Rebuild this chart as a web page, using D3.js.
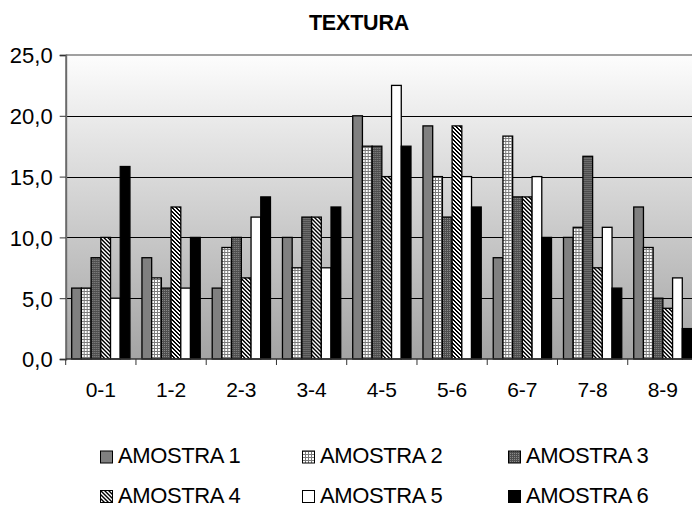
<!DOCTYPE html>
<html>
<head>
<meta charset="utf-8">
<script src="https://cdn.jsdelivr.net/npm/d3@7"></script>
<style>
  body { margin: 0; background: #fff; }
  svg { display: block; font-family: "Liberation Sans", Arial, sans-serif; }
</style>
</head>
<body>
<svg id="chart" width="692" height="508"></svg>
<script>
const title = "TEXTURA";
const categories = ["0-1", "1-2", "2-3", "3-4", "4-5", "5-6", "6-7", "7-8", "8-9"];
const seriesNames = ["AMOSTRA 1", "AMOSTRA 2", "AMOSTRA 3", "AMOSTRA 4", "AMOSTRA 5", "AMOSTRA 6"];
const amostra1 = [5.83, 8.33, 5.83, 10.0, 20.0, 19.17, 8.33, 10.0, 12.5];
const amostra2 = [5.83, 6.67, 9.17, 7.5, 17.5, 15.0, 18.33, 10.83, 9.17];
const amostra3 = [8.33, 5.83, 10.0, 11.67, 17.5, 11.67, 13.33, 16.67, 5.0];
const amostra4 = [10.0, 12.5, 6.67, 11.67, 15.0, 19.17, 13.33, 7.5, 4.17];
const amostra5 = [5.0, 5.83, 11.67, 7.5, 22.5, 15.0, 15.0, 10.83, 6.67];
const amostra6 = [15.83, 10.0, 13.33, 12.5, 17.5, 12.5, 10.0, 5.83, 2.5];
const yTicks = [0, 5, 10, 15, 20, 25];

const seriesValues = [amostra1, amostra2, amostra3, amostra4, amostra5, amostra6];
const fills = ["#808080", "url(#pGrid)", "url(#pDots)", "url(#pDiag)", "#ffffff", "#000000"];

const svg = d3.select("#chart");
const plot = { left: 65.7, right: 698, top: 55, bottom: 359 };

// defs: background gradient and patterns
const defs = svg.append("defs");
const grad = defs.append("linearGradient").attr("id", "bg")
  .attr("x1", 0).attr("y1", 0).attr("x2", 0).attr("y2", 1);
grad.append("stop").attr("offset", "0%").attr("stop-color", "#fdfdfd");
grad.append("stop").attr("offset", "100%").attr("stop-color", "#a4a4a4");

const pGrid = defs.append("pattern").attr("id", "pGrid").attr("patternUnits", "userSpaceOnUse")
  .attr("width", 3).attr("height", 3);
pGrid.append("rect").attr("width", 3).attr("height", 3).attr("fill", "#ffffff");
pGrid.append("rect").attr("width", 3).attr("height", 1).attr("fill", "#7a7a7a");
pGrid.append("rect").attr("width", 1).attr("height", 3).attr("fill", "#7a7a7a");

const pDots = defs.append("pattern").attr("id", "pDots").attr("patternUnits", "userSpaceOnUse")
  .attr("width", 2).attr("height", 2);
pDots.append("rect").attr("width", 2).attr("height", 2).attr("fill", "#4e4e4e");
pDots.append("rect").attr("width", 1).attr("height", 1).attr("fill", "#8a8a8a");

const pDiag = defs.append("pattern").attr("id", "pDiag").attr("patternUnits", "userSpaceOnUse")
  .attr("width", 4).attr("height", 4);
pDiag.append("rect").attr("width", 4).attr("height", 4).attr("fill", "#ffffff");
[[0, 0], [1, 0], [1, 1], [2, 1], [2, 2], [3, 2], [3, 3], [0, 3]].forEach(([px, py]) =>
  pDiag.append("rect").attr("x", px).attr("y", py).attr("width", 1).attr("height", 1)
    .attr("fill", "#000").attr("shape-rendering", "crispEdges"));

// scales
const x0 = d3.scaleBand().domain(categories).range([plot.left, plot.right]).padding(0);
const x1 = d3.scaleBand().domain(d3.range(seriesNames.length)).range([6, x0.bandwidth() - 6]).padding(0);
const y = d3.scaleLinear().domain([0, 25]).range([plot.bottom, plot.top]);

// background
svg.append("rect").attr("x", plot.left).attr("y", plot.top)
  .attr("width", plot.right - plot.left).attr("height", plot.bottom - plot.top)
  .attr("fill", "url(#bg)");

// gridlines
svg.append("g").selectAll("line").data(yTicks.filter(t => t > 0 && t < 25)).join("line")
  .attr("x1", plot.left).attr("x2", plot.right)
  .attr("y1", d => Math.round(y(d)) + 0.5).attr("y2", d => Math.round(y(d)) + 0.5)
  .attr("stroke", "#000").attr("stroke-width", 1);

// top border
svg.append("line").attr("x1", plot.left).attr("x2", plot.right)
  .attr("y1", plot.top).attr("y2", plot.top)
  .attr("stroke", "#a0a0a0").attr("stroke-width", 2);

// bars
const groups = svg.append("g").selectAll("g").data(categories).join("g")
  .attr("transform", c => `translate(${x0(c)},0)`);
groups.selectAll("rect")
  .data((c, i) => seriesValues.map((vals, s) => ({ s, v: vals[i] })))
  .join("rect")
  .attr("x", d => x1(d.s))
  .attr("y", d => y(d.v))
  .attr("width", x1.bandwidth())
  .attr("height", d => y(0) - y(d.v))
  .attr("fill", d => fills[d.s])
  .attr("stroke", "#000")
  .attr("stroke-width", 1.3);

// y axis
const yAxis = d3.axisLeft(y).tickValues(yTicks).tickSize(6).tickPadding(7)
  .tickFormat(d => d3.format(".1f")(d).replace(".", ","));
const gy = svg.append("g").attr("transform", `translate(${plot.left},0)`).call(yAxis);
gy.select(".domain").attr("stroke", "#6a6a6a").attr("stroke-width", 2);
gy.selectAll(".tick line").attr("stroke", "#333");
gy.selectAll("text").attr("font-size", 22).attr("fill", "#000")
  .attr("font-family", "'Liberation Sans', Arial, sans-serif")
  .attr("dy", "0.36em");

// x axis: ticks at category boundaries
const boundaries = categories.map(c => x0(c));
const gx = svg.append("g");
gx.append("line").attr("x1", plot.left).attr("x2", plot.right)
  .attr("y1", plot.bottom).attr("y2", plot.bottom)
  .attr("stroke", "#333").attr("stroke-width", 1.5);
gx.selectAll("line.tk").data(boundaries.concat([plot.right])).join("line").attr("class", "tk")
  .attr("x1", d => d).attr("x2", d => d)
  .attr("y1", plot.bottom).attr("y2", plot.bottom + 6)
  .attr("stroke", "#333").attr("stroke-width", 1);
gx.selectAll("text").data(categories).join("text")
  .attr("x", c => x0(c) + x0.bandwidth() / 2)
  .attr("y", 397)
  .attr("text-anchor", "middle")
  .attr("font-size", 21)
  .text(c => c);

// title
svg.append("text").attr("x", 359).attr("y", 29.5).attr("text-anchor", "middle")
  .attr("font-size", 21.5).attr("font-weight", "bold").attr("letter-spacing", -0.2).text(title);

// legend
const legX = [100, 302, 508];
const legY = [463, 502.5];
const leg = svg.append("g").selectAll("g").data(seriesNames).join("g")
  .attr("transform", (d, i) => `translate(${legX[i % 3]},${legY[Math.floor(i / 3)]})`);
leg.append("rect").attr("x", 0.5).attr("y", -12).attr("width", 12).attr("height", 12)
  .attr("fill", (d, i) => fills[i]).attr("stroke", "#000").attr("stroke-width", 1);
leg.append("text").attr("x", 18).attr("y", 0).attr("font-size", 22)
  .attr("letter-spacing", -0.4).text(d => d);
</script>
</body>
</html>
